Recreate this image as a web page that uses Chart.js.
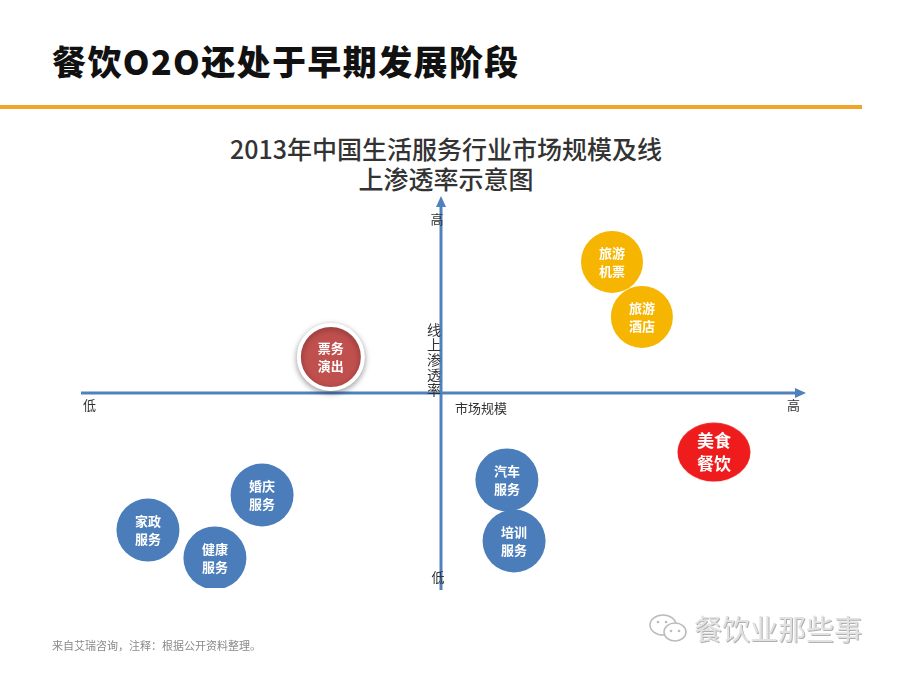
<!DOCTYPE html>
<html>
<head>
<meta charset="utf-8">
<title>餐饮O2O还处于早期发展阶段</title>
<script src="https://cdn.jsdelivr.net/npm/chart.js@4.4.0/dist/chart.umd.min.js"></script>
<style>
  body { margin: 0; width: 900px; height: 675px; background: #fff; overflow: hidden; position: relative;
         font-family: "Noto Sans CJK SC", "Noto Sans", sans-serif; }
  #slide-title { position: absolute; left: 52px; top: 36px; font-size: 34px; font-weight: 900; color: #111;
                 letter-spacing: 1.4px; white-space: nowrap; }
  #rule { position: absolute; left: 0; top: 105px; width: 862px; height: 4px; background: #f2a427; }
  #chart-title { position: absolute; left: 0; width: 892px; top: 133px; text-align: center; font-size: 25px;
                 line-height: 30px; color: #333; font-weight: 500; }
  #wrap { position: absolute; left: 0; top: 0; width: 900px; height: 675px; }
  #note { position: absolute; left: 52px; top: 637px; font-size: 11px; color: #8a8a8a; }
  #mark { position: absolute; left: 648px; top: 608px; font-size: 28px; color: #e2e2e2; white-space: nowrap;
          text-shadow: 1px 1px 0 #b0b0b0; }
  #mark svg { vertical-align: -6px; margin-right: 4px; }
</style>
</head>
<body>
<div id="slide-title">餐饮O2O还处于早期发展阶段</div>
<div id="rule"></div>
<div id="chart-title">2013年中国生活服务行业市场规模及线<br>上渗透率示意图</div>
<div id="wrap"><canvas id="quadrant" width="900" height="675"></canvas></div>
<div id="note">来自艾瑞咨询，注释：根据公开资料整理。</div>
<div id="mark"><svg width="42" height="34" viewBox="0 0 42 34">
  <ellipse cx="15" cy="13" rx="13" ry="10" fill="none" stroke="#bbb" stroke-width="1.5"/>
  <ellipse cx="27" cy="20" rx="11" ry="9" fill="#fff" stroke="#bbb" stroke-width="1.5"/>
  <circle cx="23" cy="19" r="1.3" fill="#bbb"/><circle cx="31" cy="19" r="1.3" fill="#bbb"/>
  <circle cx="10" cy="10" r="1.3" fill="#bbb"/><circle cx="18" cy="10" r="1.3" fill="#bbb"/>
</svg>餐饮业那些事</div>

<script>
// DATOS
const names = ['旅游机票', '旅游酒店', '票务演出', '婚庆服务', '家政服务', '健康服务', '汽车服务', '培训服务', '美食餐饮'];
const marketSize = [4.75, 5.58, -3.06, -4.97, -8.14, -6.28, 1.83, 2.03, 7.58];   // 市场规模 (低 -10 ... 高 10)
const onlineRate = [6.72, 3.90, 1.85, -5.23, -7.03, -8.46, -4.46, -7.59, -3.03];  // 线上渗透率 (低 -10 ... 高 10)
const kinds = ['travel', 'travel', 'ticket', 'life', 'life', 'life', 'life', 'life', 'food'];
const axisLow = '低';
const axisHigh = '高';
const xTitle = '市场规模';
const yTitle = '线上渗透率';
// DATOS END

// circulo rojo achatado para 美食餐饮
function ellipseStyle(rx, ry, color) {
  const c = document.createElement('canvas');
  c.width = rx * 2; c.height = ry * 2;
  const g = c.getContext('2d');
  g.fillStyle = color;
  g.beginPath();
  g.ellipse(rx, ry, rx - 0.5, ry - 0.5, 0, 0, Math.PI * 2);
  g.fill();
  return c;
}

// estilos
const kindStyle = {
  travel: { color: '#f6b500', border: '#f6b500', borderWidth: 0, r: 31, font: 13 },
  ticket: { color: '#c0504d', border: '#ffffff', borderWidth: 4, r: 32, font: 13, shadow: true },
  life:   { color: '#4a7dba', border: '#4a7dba', borderWidth: 0, r: 31.5, font: 13 },
  food:   { color: '#ee1c1c', border: '#ee1c1c', borderWidth: 0, r: 34, font: 17, style: ellipseStyle(37, 30, '#ee1c1c') }
};
const axisColor = '#4f81bd';

const datasets = Object.keys(kindStyle).map(k => {
  const st = kindStyle[k];
  const pts = [];
  names.forEach((n, i) => {
    if (kinds[i] === k) pts.push({ x: marketSize[i], y: onlineRate[i], r: st.r, name: n });
  });
  return {
    label: k,
    data: pts,
    backgroundColor: st.color,
    borderColor: st.border,
    borderWidth: st.borderWidth,
    pointStyle: st.style || 'circle',
    hoverRadius: 0,
    shadow: !!st.shadow,
    labelSize: st.font
  };
});

// ejes con flecha en el cero
const crossAxes = {
  id: 'crossAxes',
  beforeDatasetsDraw(chart) {
    const { ctx, chartArea: a, scales: { x, y } } = chart;
    const x0 = x.getPixelForValue(0), y0 = y.getPixelForValue(0);
    ctx.save();
    ctx.strokeStyle = axisColor;
    ctx.fillStyle = axisColor;
    ctx.lineWidth = 3;
    ctx.beginPath();
    ctx.moveTo(a.left, y0); ctx.lineTo(a.right, y0);
    ctx.moveTo(x0, a.bottom + 2); ctx.lineTo(x0, a.top + 6);
    ctx.stroke();
    ctx.beginPath();
    ctx.moveTo(a.right + 5, y0); ctx.lineTo(a.right - 6, y0 - 5); ctx.lineTo(a.right - 6, y0 + 5);
    ctx.closePath(); ctx.fill();
    ctx.beginPath();
    ctx.moveTo(x0, a.top - 2); ctx.lineTo(x0 - 5, a.top + 9); ctx.lineTo(x0 + 5, a.top + 9);
    ctx.closePath(); ctx.fill();

    ctx.fillStyle = '#333';
    ctx.font = '13px "Noto Sans CJK SC"';
    ctx.textBaseline = 'middle';
    ctx.textAlign = 'left';
    ctx.fillText(axisLow, a.left + 2, y0 + 12);
    ctx.fillText(xTitle, x0 + 14, y0 + 15);
    ctx.textAlign = 'right';
    ctx.fillText(axisHigh, a.right - 1, y0 + 12);
    ctx.textAlign = 'center';
    ctx.fillText(axisHigh, x0 - 4, a.top + 21);
    ctx.fillText(axisLow, x0 - 3, a.bottom - 11);
    ctx.font = '14px "Noto Sans CJK SC"';
    [...yTitle].forEach((c, i) => ctx.fillText(c, x0 - 7, y0 - 63 + i * 15));
    ctx.restore();
  }
};

// sombra del circulo de 票务演出
const bubbleShadow = {
  id: 'bubbleShadow',
  beforeDatasetDraw(chart, args) {
    if (!chart.data.datasets[args.index].shadow) return;
    const ctx = chart.ctx;
    ctx.save();
    ctx.shadowColor = 'rgba(0,0,0,0.35)';
    ctx.shadowBlur = 6;
    ctx.shadowOffsetY = 2;
  },
  afterDatasetDraw(chart, args) {
    if (!chart.data.datasets[args.index].shadow) return;
    chart.ctx.restore();
  }
};

// texto dentro de cada burbuja
const bubbleText = {
  id: 'bubbleText',
  afterDatasetsDraw(chart) {
    const ctx = chart.ctx;
    ctx.save();
    ctx.fillStyle = '#fff';
    ctx.textAlign = 'center';
    ctx.textBaseline = 'middle';
    chart.data.datasets.forEach((ds, di) => {
      const size = ds.labelSize;
      ctx.font = 'bold ' + size + 'px "Noto Sans CJK SC"';
      chart.getDatasetMeta(di).data.forEach((el, i) => {
        const n = ds.data[i].name;
        const gap = size * 0.68;
        ctx.fillText(n.slice(0, 2), el.x, el.y - gap);
        ctx.fillText(n.slice(2), el.x, el.y + gap);
      });
    });
    ctx.restore();
  }
};

new Chart(document.getElementById('quadrant'), {
  type: 'bubble',
  data: { datasets: datasets },
  options: {
    responsive: false,
    animation: false,
    layout: { padding: { left: 81, right: 99, top: 198, bottom: 87 } },
    plugins: { legend: { display: false }, tooltip: { enabled: false } },
    scales: {
      x: { type: 'linear', min: -10, max: 10, display: false },
      y: { type: 'linear', min: -10, max: 10, display: false }
    }
  },
  plugins: [crossAxes, bubbleShadow, bubbleText]
});
</script>
</body>
</html>
